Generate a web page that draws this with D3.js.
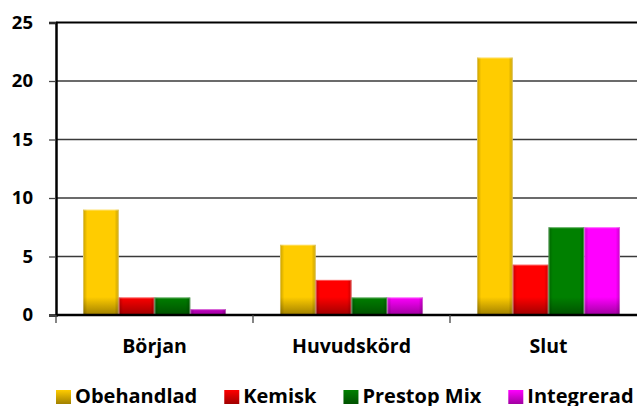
<!DOCTYPE html>
<html>
<head>
<meta charset="utf-8">
<script src="https://cdn.jsdelivr.net/npm/d3@7"></script>
<style>
  html, body { margin: 0; padding: 0; background: #fff; }
  svg { display: block; }
  text { font-family: "Open Sans", Lato, sans-serif; font-weight: 700; fill: #000; }
</style>
</head>
<body>
<div id="chart"></div>
<script>
const categories = ['Början', 'Huvudskörd', 'Slut'];
const seriesNames = ['Obehandlad', 'Kemisk', 'Prestop Mix', 'Integrerad'];
const obehandlad = [9, 6, 22];
const kemisk = [1.5, 3, 4.3];
const prestopMix = [1.5, 1.5, 7.5];
const integrerad = [0.5, 1.5, 7.5];
const yTicks = [0, 5, 10, 15, 20, 25];
const seriesColors = ['#FFCC00', '#FF0000', '#008000', '#FF00FF'];

const seriesValues = [obehandlad, kemisk, prestopMix, integrerad];

const width = 637, height = 406;
const margin = { top: 22.5, left: 56, bottom: 91 };
const plotRight = 647; // last category runs off the right edge

const svg = d3.select('#chart').append('svg')
  .attr('width', width)
  .attr('height', height);

const defs = svg.append('defs');

const y = d3.scaleLinear()
  .domain([0, 25])
  .range([height - margin.bottom, margin.top]);

const x0 = d3.scaleBand()
  .domain(categories)
  .range([margin.left, plotRight]);

const x1 = d3.scaleBand()
  .domain(seriesNames)
  .range([0, x0.bandwidth()])
  .paddingOuter(0.755);

// darker band at the bottom of each bar (fixed height in pixels)
seriesColors.forEach((c, i) => {
  const dark = d3.color(c).darker(1.3);
  const g = defs.append('linearGradient')
    .attr('id', 'grad' + i)
    .attr('gradientUnits', 'userSpaceOnUse')
    .attr('x1', 0).attr('x2', 0)
    .attr('y1', y(0) - 18).attr('y2', y(0));
  g.append('stop').attr('offset', 0).attr('stop-color', c);
  g.append('stop').attr('offset', 1).attr('stop-color', dark.formatHex());

  const lg = defs.append('linearGradient')
    .attr('id', 'leg' + i)
    .attr('x1', 0).attr('x2', 0).attr('y1', 0).attr('y2', 1);
  lg.append('stop').attr('offset', 0).attr('stop-color', c);
  lg.append('stop').attr('offset', 1).attr('stop-color', dark.formatHex());
});

// side shading
const side = defs.append('linearGradient').attr('id', 'side')
  .attr('x1', 0).attr('x2', 1).attr('y1', 0).attr('y2', 0);
[[0, 0.22], [0.12, 0], [0.88, 0], [1, 0.22]].forEach(([o, a]) => {
  side.append('stop').attr('offset', o).attr('stop-color', '#000').attr('stop-opacity', a);
});

// gridlines
svg.append('g')
  .selectAll('line')
  .data(yTicks.filter(d => d > 0 && d < 25))
  .join('line')
  .attr('x1', margin.left).attr('x2', width)
  .attr('y1', d => y(d)).attr('y2', d => y(d))
  .attr('stroke', '#3a3a3a')
  .attr('stroke-width', 1.3);

// top border of plot area
svg.append('line')
  .attr('x1', margin.left).attr('x2', width)
  .attr('y1', y(25)).attr('y2', y(25))
  .attr('stroke', '#000').attr('stroke-width', 2);

// bars
const groups = svg.append('g')
  .selectAll('g')
  .data(categories)
  .join('g')
  .attr('transform', d => `translate(${x0(d)},0)`);

groups.each(function (cat, ci) {
  const g = d3.select(this);
  seriesNames.forEach((s, si) => {
    const v = seriesValues[si][ci];
    const bx = x1(s), by = y(v), bw = x1.bandwidth(), bh = y(0) - y(v);
    g.append('rect')
      .attr('x', bx).attr('y', by).attr('width', bw).attr('height', bh)
      .attr('fill', `url(#grad${si})`);
    g.append('rect')
      .attr('x', bx).attr('y', by).attr('width', bw).attr('height', bh)
      .attr('fill', 'url(#side)');
    g.append('rect')
      .attr('x', bx + 0.5).attr('y', by + 0.5).attr('width', bw - 1).attr('height', Math.max(0, bh - 1))
      .attr('fill', 'none').attr('stroke', '#fff').attr('stroke-opacity', 0.35);
  });
});

// y axis
const yAxis = svg.append('g')
  .attr('transform', `translate(${margin.left},0)`)
  .call(d3.axisLeft(y).tickValues(yTicks).tickSize(7).tickPadding(16));
yAxis.select('.domain').attr('stroke', '#000').attr('stroke-width', 2.5);
yAxis.selectAll('.tick line').attr('stroke', '#444').attr('stroke-width', 1.3);
yAxis.selectAll('.tick text')
  .attr('font-size', 18.5)
  .attr('font-family', null)
  .attr('fill', '#000');

// x axis
const xAxis = svg.append('g')
  .attr('transform', `translate(0,${y(0)})`)
  .call(d3.axisBottom(x0).tickSize(0).tickPadding(0));
xAxis.select('.domain').remove();
xAxis.selectAll('.tick text').remove();
svg.append('line')
  .attr('x1', margin.left).attr('x2', width)
  .attr('y1', y(0)).attr('y2', y(0))
  .attr('stroke', '#000').attr('stroke-width', 2.5);
svg.append('g')
  .selectAll('line')
  .data(categories)
  .join('line')
  .attr('x1', d => x0(d)).attr('x2', d => x0(d))
  .attr('y1', y(0)).attr('y2', y(0) + 8)
  .attr('stroke', '#444').attr('stroke-width', 1.3);

svg.append('g')
  .selectAll('text')
  .data(categories)
  .join('text')
  .attr('x', d => x0(d) + x0.bandwidth() / 2)
  .attr('y', 353)
  .attr('text-anchor', 'middle')
  .attr('font-size', 19.5)
  .text(d => d);

// legend
const legend = svg.append('g');
let lx = 56;
seriesNames.forEach((s, i) => {
  legend.append('rect')
    .attr('x', lx).attr('y', 390).attr('width', 15).attr('height', 14)
    .attr('fill', `url(#leg${i})`);
  const t = legend.append('text')
    .attr('x', lx + 19).attr('y', 403)
    .attr('font-size', 20)
    .text(s);
  lx += 19 + t.node().getComputedTextLength() + 27;
});
</script>
</body>
</html>
